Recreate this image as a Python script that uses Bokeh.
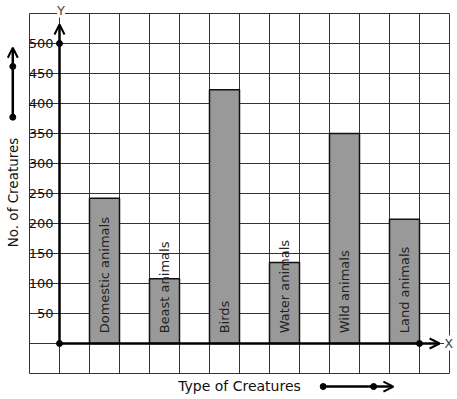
import math
from bokeh.plotting import figure
from bokeh.models import (LinearAxis, FixedTicker, Range1d, Label, Arrow, OpenHead,
                          ColumnDataSource)
from bokeh.core.properties import value
from bokeh.embed import file_html
from bokeh.resources import INLINE

# ---- data ----
categories = ["Domestic animals", "Beast animals", "Birds", "Water animals",
              "Wild animals", "Land animals"]
counts = [242, 108, 423, 135, 350, 207]
y_ticks = [50, 100, 150, 200, 250, 300, 350, 400, 450, 500]
x_title = "Type of Creatures"
y_title = "No. of Creatures"

FONT = "DejaVu Sans"

p = figure(width=457, height=399, output_backend="svg", toolbar_location=None,
           x_axis_type=None, y_axis_type=None,
           x_range=Range1d(-59 / 30, 398 / 30), y_range=Range1d(-56 / 0.6, 343 / 0.6),
           min_border=0, min_border_left=0, min_border_right=0,
           min_border_top=0, min_border_bottom=0)
p.outline_line_color = None
p.background_fill_color = "white"
p.border_fill_color = "white"

# ---- graph paper grid: one column per unit, one row per 50 ----
gx = list(range(-1, 14))
gy = list(range(-50, 551, 50))
p.segment(x0=gx, x1=gx, y0=[-50] * len(gx), y1=[550] * len(gx),
          line_color="#333333", line_width=1)
p.segment(x0=[-1] * len(gy), x1=[13] * len(gy), y0=gy, y1=gy,
          line_color="#333333", line_width=1)

# ---- bars ----
xs = [1.5 + 2 * i for i in range(len(categories))]
src = ColumnDataSource(dict(x=xs, top=counts, cat=categories,
                            ly=[17] * len(categories)))
p.vbar(x="x", top="top", bottom=0, width=1, source=src,
       fill_color="#999999", line_color="#111111", line_width=1.5)
p.text(x="x", y="ly", text="cat", source=src, angle=math.pi / 2,
       text_align="left", text_baseline="middle",
       text_font=value(FONT), text_font_size=value("13px"),
       text_color="#222222")

# ---- y axis (through origin) ----
yaxis = LinearAxis(fixed_location=0, ticker=FixedTicker(ticks=y_ticks))
yaxis.axis_line_color = None
yaxis.major_tick_line_color = None
yaxis.minor_tick_line_color = None
yaxis.major_tick_out = 0
yaxis.major_tick_in = 0
yaxis.major_label_standoff = 6
yaxis.major_label_text_font = FONT
yaxis.major_label_text_font_size = "13px"
yaxis.major_label_text_color = "#111111"
try:
    yaxis.major_label_background_fill_color = "white"
except Exception:
    pass
p.add_layout(yaxis, "left")

# ---- axis lines with arrow heads ----
p.add_layout(Arrow(x_start=0, y_start=0, x_end=0, y_end=531.7,
                   line_width=2.5, line_color="black",
                   end=OpenHead(size=10, line_width=2, line_color="black")))
p.add_layout(Arrow(x_start=0, y_start=0, x_end=12.67, y_end=0,
                   line_width=2.5, line_color="black",
                   end=OpenHead(size=10, line_width=2, line_color="black")))

# dots on axes
p.scatter(x=[0, 0, 12], y=[500, 0, 0], size=6, color="black")

# axis letters
p.add_layout(Label(x=0.05, y=555.8, text="Y", text_align="center",
                   text_baseline="middle", text_font=FONT, text_font_size="13px",
                   background_fill_color="white"))
p.add_layout(Label(x=12.97, y=0.8, text="X", text_align="center",
                   text_baseline="middle", text_font=FONT, text_font_size="13px",
                   background_fill_color="white"))

# ---- titles with arrows ----
p.add_layout(Label(x=-1.55, y=251.7, text=y_title, angle=math.pi / 2,
                   text_align="center", text_baseline="middle",
                   text_font=FONT, text_font_size="13.5px", text_color="#111111"))
p.add_layout(Label(x=6.0, y=-70, text=x_title, text_align="center",
                   text_baseline="middle", text_font=FONT,
                   text_font_size="14px", text_color="#111111"))

p.add_layout(Arrow(x_start=-1.557, y_start=377.2, x_end=-1.557, y_end=492.8,
                   line_width=2.5, line_color="black",
                   end=OpenHead(size=10, line_width=2, line_color="black")))
p.scatter(x=[-1.557, -1.557], y=[377.2, 461.7], size=6, color="black")

p.add_layout(Arrow(x_start=8.79, y_start=-71.7, x_end=11.13, y_end=-71.7,
                   line_width=2.5, line_color="black",
                   end=OpenHead(size=10, line_width=2, line_color="black")))
p.scatter(x=[8.79, 10.47], y=[-71.7, -71.7], size=6, color="black")

open("out.html", "w").write(file_html(p, INLINE))
